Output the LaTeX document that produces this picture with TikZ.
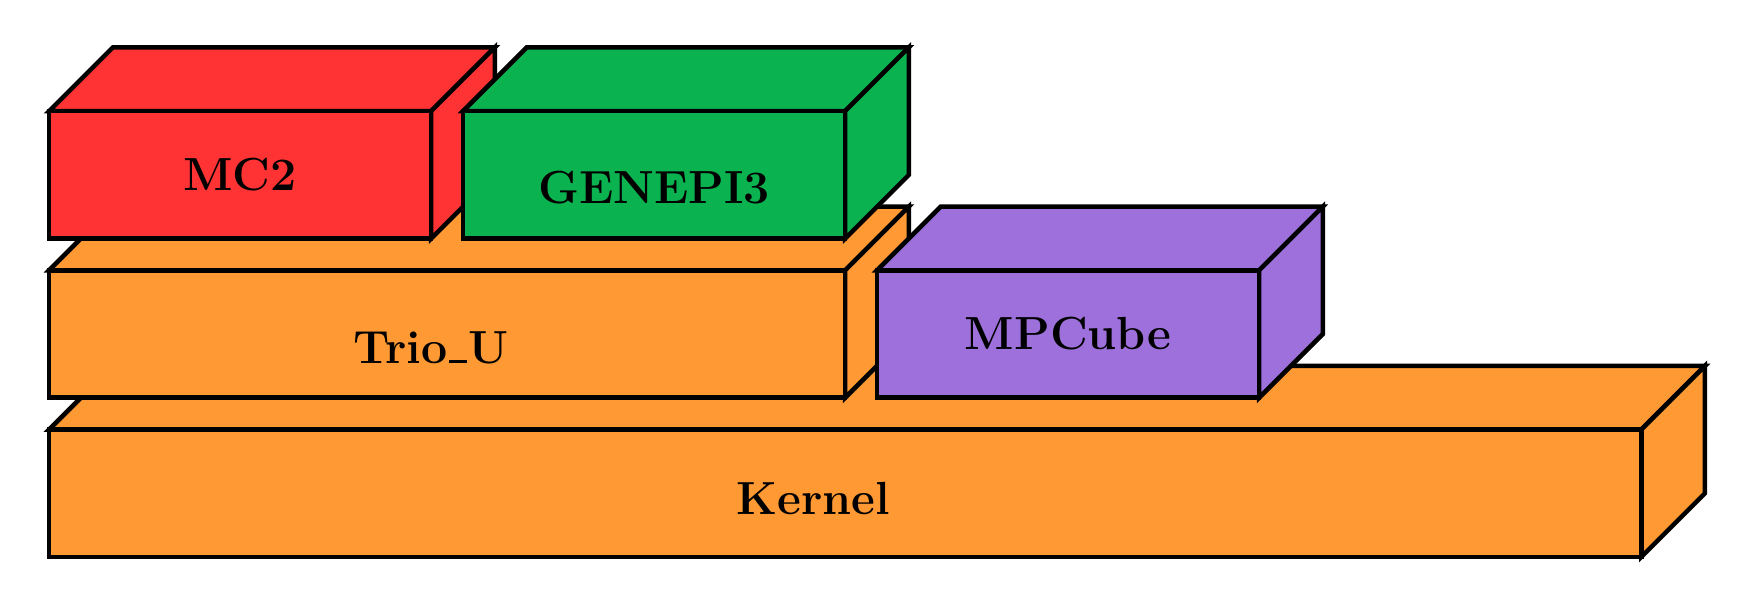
\documentclass[tikz,border=0pt]{standalone}
\definecolor{blockred}{RGB}{255,51,51}
\definecolor{blockorange}{RGB}{255,153,51}
\definecolor{blockgreen}{RGB}{11,178,80}
\definecolor{blockpurple}{RGB}{158,112,220}
\begin{document}
\begin{tikzpicture}[face/.style={draw=black,line width=2pt},
    blocklabel/.style={anchor=base,inner sep=0pt,font=\bfseries\fontsize{20.74}{25}\selectfont}]
        \useasboundingbox (-0.77,-0.675) rectangle (26.77,8.745);
        \draw[face,fill=blockorange] (0,2) -- (1,3) -- (26,3) -- (25,2) -- cycle;
        \draw[face,fill=blockorange] (25,0) -- (26,1) -- (26,3) -- (25,2) -- cycle;
        \draw[face,fill=blockorange] (0,0) rectangle (25,2);
        \node[blocklabel] (kernel) at (12,0.66) {Kernel};
        \draw[face,fill=blockorange] (0,4.5) -- (1,5.5) -- (13.5,5.5) -- (12.5,4.5) -- cycle;
        \draw[face,fill=blockorange] (12.5,2.5) -- (13.5,3.5) -- (13.5,5.5) -- (12.5,4.5) -- cycle;
        \draw[face,fill=blockorange] (0,2.5) rectangle (12.5,4.5);
        \node[blocklabel] (trio) at (6,3.045) {Trio\kern0.05em\rule{0.37em}{0.06em}\kern0.05em U};
        \draw[face,fill=blockpurple] (13,4.5) -- (14,5.5) -- (20,5.5) -- (19,4.5) -- cycle;
        \draw[face,fill=blockpurple] (19,2.5) -- (20,3.5) -- (20,5.5) -- (19,4.5) -- cycle;
        \draw[face,fill=blockpurple] (13,2.5) rectangle (19,4.5);
        \node[blocklabel] (mpcube) at (16,3.25) {MPCube};
        \draw[face,fill=blockred] (0,7) -- (1,8) -- (7,8) -- (6,7) -- cycle;
        \draw[face,fill=blockred] (6,5) -- (7,6) -- (7,8) -- (6,7) -- cycle;
        \draw[face,fill=blockred] (0,5) rectangle (6,7);
        \node[blocklabel] (mc) at (3,5.76) {MC2};
        \draw[face,fill=blockgreen] (6.5,7) -- (7.5,8) -- (13.5,8) -- (12.5,7) -- cycle;
        \draw[face,fill=blockgreen] (12.5,5) -- (13.5,6) -- (13.5,8) -- (12.5,7) -- cycle;
        \draw[face,fill=blockgreen] (6.5,5) rectangle (12.5,7);
        \node[blocklabel] (genepi) at (9.5,5.557) {GENEPI3};
    \end{tikzpicture}
\end{document}
